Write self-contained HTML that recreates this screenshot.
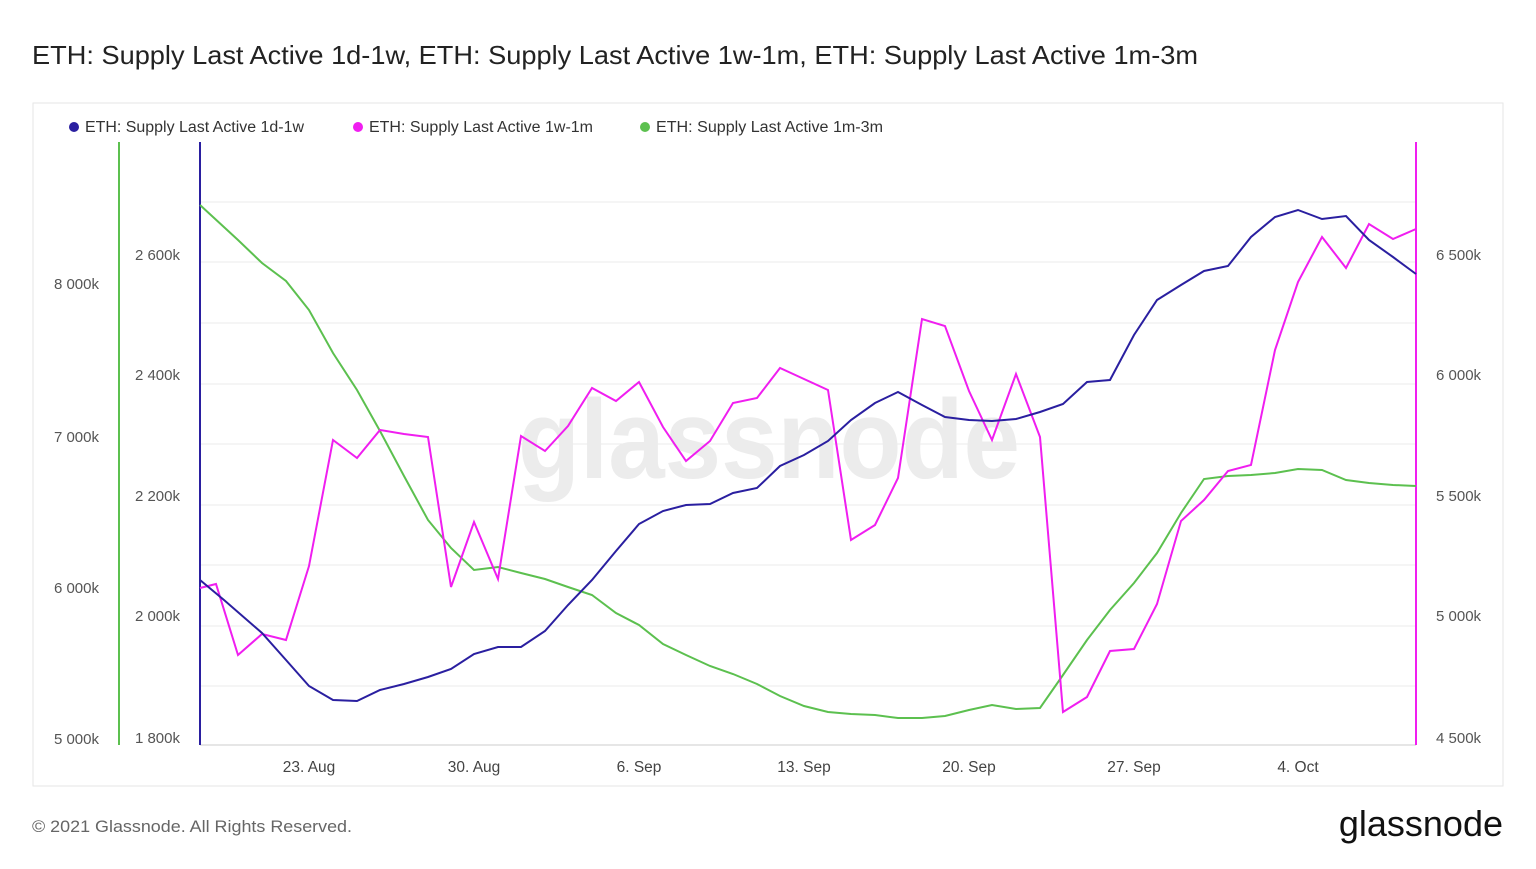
<!DOCTYPE html>
<html><head><meta charset="utf-8"><style>
body{margin:0;background:#fff;width:1536px;height:864px;overflow:hidden;font-family:"Liberation Sans",sans-serif;}
</style></head><body>
<svg width="1536" height="864" xmlns="http://www.w3.org/2000/svg" font-family="Liberation Sans, sans-serif">
<text x="32" y="64" font-size="26" fill="#222" textLength="1166" lengthAdjust="spacingAndGlyphs">ETH: Supply Last Active 1d-1w, ETH: Supply Last Active 1w-1m, ETH: Supply Last Active 1m-3m</text>
<rect x="33" y="103" width="1470" height="683" fill="none" stroke="#e6e6e6"/>
<g stroke="#ebebeb" stroke-width="1">
<line x1="200" x2="1416" y1="202" y2="202"/><line x1="200" x2="1416" y1="262" y2="262"/>
<line x1="200" x2="1416" y1="323" y2="323"/><line x1="200" x2="1416" y1="384" y2="384"/>
<line x1="200" x2="1416" y1="444" y2="444"/><line x1="200" x2="1416" y1="505" y2="505"/>
<line x1="200" x2="1416" y1="565" y2="565"/><line x1="200" x2="1416" y1="626" y2="626"/>
<line x1="200" x2="1416" y1="686" y2="686"/></g>
<line x1="200" x2="1416" y1="745" y2="745" stroke="#ccc"/>
<text x="518" y="478" font-size="112" fill="#ececec" font-weight="bold" textLength="502" lengthAdjust="spacingAndGlyphs">glassnode</text>
<line x1="119" x2="119" y1="142" y2="745" stroke="#5cc04f" stroke-width="2"/>
<line x1="200" x2="200" y1="142" y2="745" stroke="#2a1fa0" stroke-width="2"/>
<line x1="1416" x2="1416" y1="142" y2="745" stroke="#f01ef0" stroke-width="2"/>
<g font-size="15" fill="#555">
<text x="99" y="289" text-anchor="end">8 000k</text><text x="99" y="442" text-anchor="end">7 000k</text>
<text x="99" y="593" text-anchor="end">6 000k</text><text x="99" y="744" text-anchor="end">5 000k</text>
<text x="180" y="260" text-anchor="end">2 600k</text><text x="180" y="380" text-anchor="end">2 400k</text>
<text x="180" y="501" text-anchor="end">2 200k</text><text x="180" y="621" text-anchor="end">2 000k</text>
<text x="180" y="743" text-anchor="end">1 800k</text>
<text x="1436" y="260">6 500k</text><text x="1436" y="380">6 000k</text><text x="1436" y="501">5 500k</text>
<text x="1436" y="621">5 000k</text><text x="1436" y="743">4 500k</text>
</g>
<g font-size="15.5" fill="#444" text-anchor="middle">
<text x="309" y="772">23. Aug</text><text x="474" y="772">30. Aug</text><text x="639" y="772">6. Sep</text>
<text x="804" y="772">13. Sep</text><text x="969" y="772">20. Sep</text><text x="1134" y="772">27. Sep</text><text x="1298" y="772">4. Oct</text>
</g>
<g font-size="15.5" fill="#333">
<circle cx="74" cy="127" r="5" fill="#2a1fa0"/><text x="85" y="132" textLength="219" lengthAdjust="spacingAndGlyphs">ETH: Supply Last Active 1d-1w</text>
<circle cx="358" cy="127" r="5" fill="#f01ef0"/><text x="369" y="132" textLength="224" lengthAdjust="spacingAndGlyphs">ETH: Supply Last Active 1w-1m</text>
<circle cx="645" cy="127" r="5" fill="#5cc04f"/><text x="656" y="132" textLength="227" lengthAdjust="spacingAndGlyphs">ETH: Supply Last Active 1m-3m</text>
</g>
<polyline fill="none" stroke="#5cc04f" stroke-width="2" points="200,205 238,240 262,263 286,281 309,310 333,353 357,390 380,431 404,476 428,520 451,548 474,570 498,567 521,573 545,579 568,587 592,595 616,613 639,625 663,644 686,655 710,666 733,674 757,684 780,696 804,706 828,712 851,714 875,715 898,718 922,718 945,716 969,710 992,705 1016,709 1040,708 1063,675 1087,640 1110,610 1134,583 1157,553 1181,513 1204,479 1228,476 1251,475 1275,473 1298,469 1322,470 1346,480 1369,483 1393,485 1416,486"/>
<polyline fill="none" stroke="#f01ef0" stroke-width="2" points="200,588 216,584 238,655 262,634 286,640 309,566 333,440 357,458 380,430 404,434 428,437 451,587 474,522 498,579 521,436 545,451 568,426 592,388 616,401 639,382 663,427 686,461 710,441 733,403 757,398 780,368 804,379 828,390 851,540 875,525 898,478 922,319 945,326 969,391 992,440 1016,374 1040,437 1063,712 1087,697 1110,651 1134,649 1157,604 1181,521 1204,500 1228,471 1251,465 1275,350 1298,282 1322,237 1346,268 1369,224 1393,239 1416,229"/>
<polyline fill="none" stroke="#2a1fa0" stroke-width="2" points="200,580 224,600 262,633 286,660 309,686 333,700 357,701 380,690 404,684 428,677 451,669 474,654 498,647 521,647 545,631 568,605 592,580 616,551 639,524 663,511 686,505 710,504 733,493 757,488 780,466 804,455 828,441 851,420 875,403 898,392 922,405 945,417 969,420 992,421 1016,419 1040,412 1063,404 1087,382 1110,380 1134,335 1157,300 1181,285 1204,271 1228,266 1251,237 1275,217 1298,210 1322,219 1346,216 1369,240 1393,257 1416,274"/>
<text x="32" y="832" font-size="17" fill="#666" textLength="320" lengthAdjust="spacingAndGlyphs">© 2021 Glassnode. All Rights Reserved.</text>
<text x="1503" y="836" font-size="36" fill="#111" text-anchor="end">glassnode</text>
</svg>
</body></html>
